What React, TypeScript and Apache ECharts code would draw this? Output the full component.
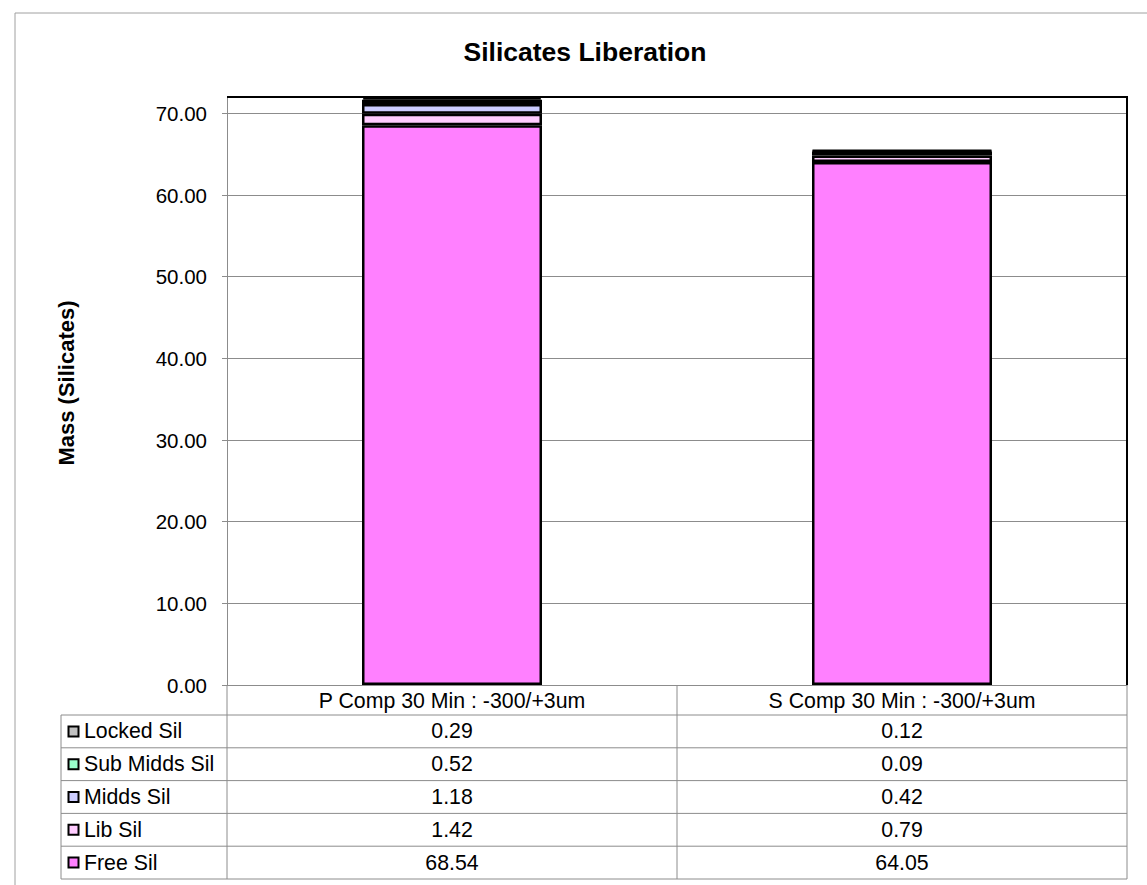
import React, { useEffect, useRef } from "react";
import * as echarts from "echarts";

const categories = ["P Comp 30 Min : -300/+3um", "S Comp 30 Min : -300/+3um"];
const freeSil = [68.54, 64.05];
const libSil = [1.42, 0.79];
const middsSil = [1.18, 0.42];
const subMiddsSil = [0.52, 0.09];
const lockedSil = [0.29, 0.12];
const seriesNames = ["Free Sil", "Lib Sil", "Midds Sil", "Sub Midds Sil", "Locked Sil"];
const seriesColors = ["#FF80FF", "#FFCCFF", "#CCCCFF", "#99FFCC", "#C0C0C0"];
const seriesValues = [freeSil, libSil, middsSil, subMiddsSil, lockedSil];
const chartTitle = "Silicates Liberation";
const yAxisTitle = "Mass (Silicates)";

const FONT = "'Liberation Sans', Arial, sans-serif";
const GRID_LEFT = 227;
const GRID_TOP = 97;
const GRID_RIGHT_X = 1127;
const GRID_BOTTOM_Y = 685;
const LINE_GRAY = "#8c8c8c";
const FS_TICK = 20.5;
const FS = 21.3;

export default function App() {
  const ref = useRef<HTMLDivElement>(null);
  useEffect(() => {
    if (!ref.current) return;
    const chart = echarts.init(ref.current, null, { renderer: "svg" });
    chart.setOption({
      animation: false,
      backgroundColor: "#fff",
      grid: {
        left: GRID_LEFT,
        top: GRID_TOP,
        width: GRID_RIGHT_X - GRID_LEFT,
        height: GRID_BOTTOM_Y - GRID_TOP,
      },
      xAxis: {
        type: "category",
        data: categories,
        axisLine: { lineStyle: { color: LINE_GRAY, width: 1 } },
        axisTick: { show: false },
        axisLabel: { fontFamily: FONT, fontSize: FS, color: "#000", margin: 5, interval: 0 },
      },
      yAxis: {
        type: "value",
        min: 0,
        max: 72,
        interval: 10,
        axisLine: { show: true, lineStyle: { color: LINE_GRAY, width: 1 } },
        axisTick: { show: true, length: 5, lineStyle: { color: LINE_GRAY } },
        axisLabel: {
          fontFamily: FONT,
          fontSize: FS_TICK,
          color: "#000",
          margin: 20,
          showMaxLabel: false,
          formatter: (v: number) => v.toFixed(2),
        },
        splitLine: { show: true, lineStyle: { color: LINE_GRAY, width: 1 } },
      },
      series: seriesNames.map((name, i) => ({
        name,
        type: "bar",
        stack: "total",
        barWidth: "40%",
        data: seriesValues[i],
        itemStyle: { color: seriesColors[i], borderColor: "#000", borderWidth: 2.5 },
      })),
    });

    const centers = categories.map((c) => chart.convertToPixel({ xAxisIndex: 0 }, c) as number);
    const colW = centers.length > 1 ? centers[1] - centers[0] : 450;
    const tableLeft = 61;
    const headerBottom = 715;
    const rowH = 32.8;
    const rowOrder = [4, 3, 2, 1, 0];
    const tableBottom = headerBottom + rowH * rowOrder.length;
    const els: any[] = [];
    els.push({
      type: "rect",
      shape: { x: 15, y: 13, width: 1300, height: 1000 },
      style: { fill: "none", stroke: "#a0a0a0", lineWidth: 1 },
      z: 0,
    });
    els.push({
      type: "text",
      x: 585,
      y: 52,
      style: { text: chartTitle, fontFamily: FONT, fontSize: 26.5, fontWeight: "bold", fill: "#000", textAlign: "center", verticalAlign: "middle" },
      z: 6,
    });
    els.push({
      type: "text",
      x: 66,
      y: 383,
      rotation: Math.PI / 2,
      style: { text: yAxisTitle, fontFamily: FONT, fontSize: 22, fontWeight: "bold", fill: "#000", textAlign: "center", verticalAlign: "middle" },
      z: 6,
    });
    els.push({
      type: "polyline",
      shape: { points: [[GRID_LEFT, GRID_TOP], [GRID_RIGHT_X, GRID_TOP], [GRID_RIGHT_X, GRID_BOTTOM_Y]] },
      style: { fill: "none", stroke: "#000", lineWidth: 2 },
      z: 10,
    });
    for (let r = 0; r <= rowOrder.length; r++) {
      const y = headerBottom + rowH * r;
      els.push({
        type: "line",
        shape: { x1: tableLeft, y1: y, x2: GRID_RIGHT_X, y2: y },
        style: { stroke: LINE_GRAY, lineWidth: 1 },
        z: 5,
      });
    }
    els.push({ type: "line", shape: { x1: tableLeft, y1: headerBottom, x2: tableLeft, y2: tableBottom }, style: { stroke: LINE_GRAY, lineWidth: 1 }, z: 5 });
    const boundaries = [centers[0] - colW / 2, ...centers.map((c) => c + colW / 2)];
    boundaries.forEach((x) => {
      els.push({ type: "line", shape: { x1: x, y1: GRID_BOTTOM_Y, x2: x, y2: tableBottom }, style: { stroke: LINE_GRAY, lineWidth: 1 }, z: 5 });
    });
    rowOrder.forEach((si, r) => {
      const cy = headerBottom + rowH * r + rowH / 2;
      els.push({
        type: "rect",
        shape: { x: 68.5, y: cy - 5, width: 10, height: 10 },
        style: { fill: seriesColors[si], stroke: "#000", lineWidth: 2 },
        z: 6,
      });
      els.push({
        type: "text",
        x: 84,
        y: cy,
        style: { text: seriesNames[si], fontFamily: FONT, fontSize: FS, fill: "#000", verticalAlign: "middle", textAlign: "left" },
        z: 6,
      });
      seriesValues[si].forEach((v, ci) => {
        els.push({
          type: "text",
          x: centers[ci],
          y: cy,
          style: { text: v.toFixed(2), fontFamily: FONT, fontSize: FS, fill: "#000", verticalAlign: "middle", textAlign: "center" },
          z: 6,
        });
      });
    });
    chart.setOption({ graphic: { elements: els } });
    return () => chart.dispose();
  }, []);
  return (
    <div
      ref={ref}
      style={{ position: "fixed", left: 0, top: 0, width: 1147, height: 885, background: "#fff" }}
    />
  );
}
